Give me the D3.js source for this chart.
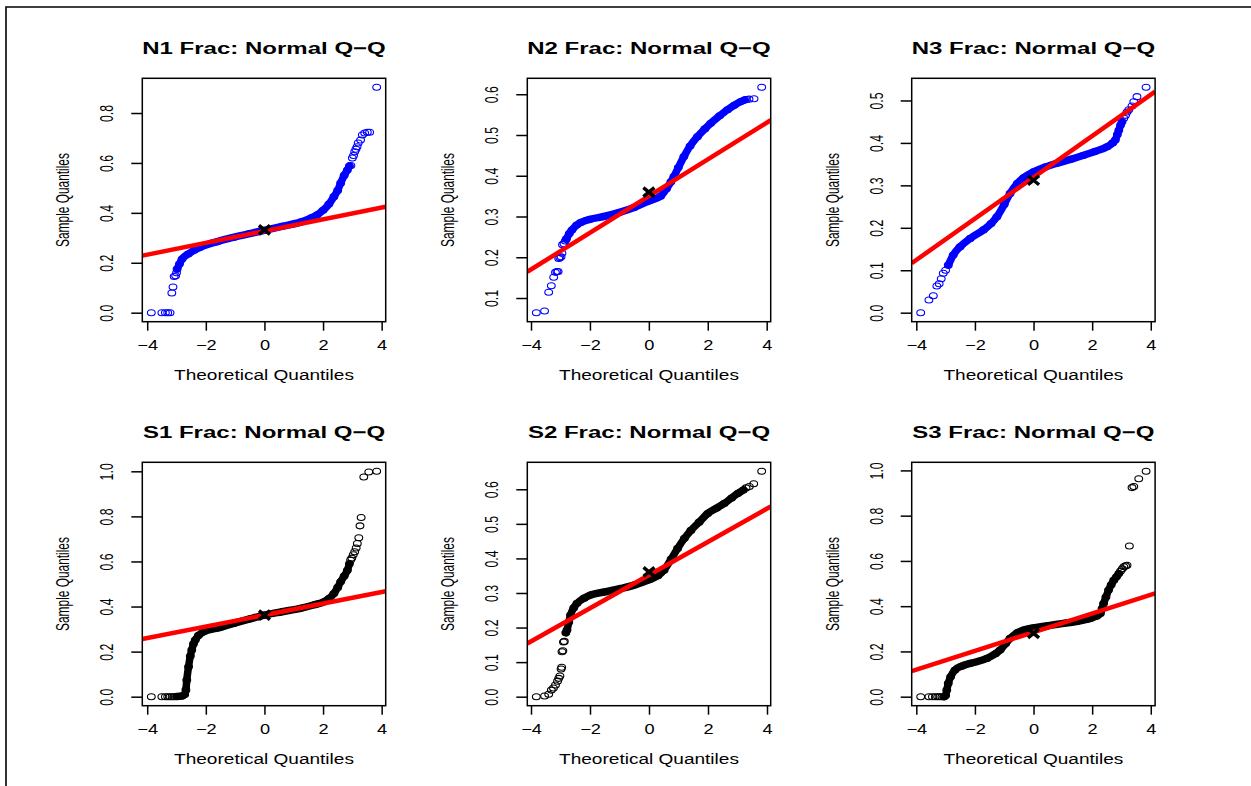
<!DOCTYPE html>
<html>
<head>
<meta charset="utf-8">
<script src="https://cdn.jsdelivr.net/npm/d3@7"></script>
<style>
body { margin: 0; background: #fff; }
text { font-family: "Liberation Sans", Arial, Helvetica, sans-serif; fill: #000; }
</style>
</head>
<body>
<svg id="chart" width="1251" height="786"></svg>
<script>
// values: [theoretical quantile, sample quantile]
var titles = ["N1 Frac: Normal Q\u2212Q", "N2 Frac: Normal Q\u2212Q", "N3 Frac: Normal Q\u2212Q",
              "S1 Frac: Normal Q\u2212Q", "S2 Frac: Normal Q\u2212Q", "S3 Frac: Normal Q\u2212Q"];
var colors = ["#0000ff", "#0000ff", "#0000ff", "#000000", "#000000", "#000000"];

var yTicks = [
  [0, 0.2, 0.4, 0.6, 0.8],
  [0.1, 0.2, 0.3, 0.4, 0.5, 0.6],
  [0, 0.1, 0.2, 0.3, 0.4, 0.5],
  [0, 0.2, 0.4, 0.6, 0.8, 1.0],
  [0, 0.1, 0.2, 0.3, 0.4, 0.5, 0.6],
  [0, 0.2, 0.4, 0.6, 0.8, 1.0]
];
var xTicks = [-4, -2, 0, 2, 4];

// qqline: intercept and slope, plus the median marker
var qqIntercept = [0.327, 0.350, 0.319, 0.362, 0.352, 0.285];
var qqSlope = [0.0236, 0.045, 0.0487, 0.0255, 0.048, 0.0413];
var medians = [0.332, 0.360, 0.312, 0.362, 0.361, 0.280];

// dense part of each Q-Q cloud
var n1Band = [[-2.98,0.175],[-2.9,0.195],[-2.81,0.215],[-2.6,0.235],[-2.4,0.25],[-2.19,0.262],[-1.6,0.285],
  [-1.05,0.302],[-0.5,0.317],[0,0.33],[0.6,0.346],[1.23,0.363],[1.6,0.38],[1.8,0.392],[2.0,0.41],[2.2,0.435],
  [2.37,0.465],[2.5,0.49],[2.6,0.519],[2.72,0.55],[2.83,0.572],[2.9,0.588]];
var n2Band = [[-2.8,0.245],[-2.7,0.258],[-2.61,0.267],[-2.45,0.279],[-2.32,0.285],[-2.0,0.293],[-1.53,0.30],
  [-1.0,0.31],[-0.5,0.322],[0,0.338],[0.4,0.35],[0.6,0.368],[0.75,0.385],[0.85,0.398],[1.0,0.42],[1.19,0.447],
  [1.4,0.473],[1.65,0.496],[1.9,0.515],[2.1,0.529],[2.4,0.547],[2.67,0.562],[2.9,0.573],[3.12,0.582],[3.25,0.586]];
var n3Band = [[-2.91,0.112],[-2.74,0.136],[-2.51,0.155],[-2.16,0.175],[-1.71,0.195],[-1.45,0.21],[-1.25,0.226],
  [-1.0,0.255],[-0.8,0.281],[-0.55,0.305],[-0.34,0.318],[0,0.332],[0.4,0.343],[0.8,0.352],[1.3,0.362],
  [1.71,0.371],[2.1,0.38],[2.51,0.391],[2.7,0.4],[2.79,0.407],[2.86,0.42],[2.91,0.43],[2.97,0.442],[3.02,0.45]];
var s1Band = [[-3.0,0.001],[-2.81,0.003],[-2.72,0.01],[-2.68,0.03],[-2.65,0.074],[-2.59,0.133],[-2.53,0.18],
  [-2.48,0.207],[-2.42,0.235],[-2.36,0.251],[-2.25,0.272],[-2.07,0.288],[-1.5,0.308],[-1.05,0.325],[-0.5,0.345],
  [0,0.362],[0.6,0.377],[1.23,0.392],[1.7,0.408],[2.03,0.421],[2.2,0.435],[2.37,0.458],[2.5,0.485],[2.6,0.51],
  [2.72,0.535],[2.83,0.561],[2.9,0.59]];
var s2Band = [[-2.82,0.185],[-2.78,0.193],[-2.72,0.215],[-2.66,0.236],[-2.55,0.257],[-2.44,0.27],[-2.2,0.285],
  [-1.98,0.294],[-1.5,0.303],[-0.96,0.313],[-0.5,0.323],[0,0.338],[0.3,0.35],[0.51,0.366],[0.75,0.398],
  [0.97,0.429],[1.2,0.458],[1.42,0.481],[1.7,0.505],[1.99,0.53],[2.3,0.546],[2.55,0.559],[2.8,0.575],
  [3.01,0.588],[3.2,0.598]];
var s3Band = [[-3.05,0],[-3.0,0.005],[-2.96,0.029],[-2.91,0.059],[-2.83,0.088],[-2.68,0.118],[-2.45,0.135],
  [-2.16,0.147],[-1.59,0.169],[-1.3,0.19],[-1.14,0.206],[-0.95,0.235],[-0.8,0.258],[-0.55,0.283],[-0.34,0.294],
  [0,0.304],[0.5,0.314],[1.03,0.324],[1.5,0.333],[1.94,0.346],[2.15,0.356],[2.28,0.368],[2.34,0.39],[2.39,0.412],
  [2.47,0.44],[2.56,0.471],[2.65,0.495],[2.74,0.515],[2.83,0.53],[2.91,0.544]];

// separate points in the tails
var n1Tails = [[-3.86,0],[-3.5,0],[-3.38,0],[-3.3,0],[-3.22,0],[-3.16,0.079],[-3.12,0.103],[-3.08,0.145],
  [-3.03,0.148],[-3.0,0.16],
  [2.95,0.59],[3.0,0.62],[3.04,0.63],[3.08,0.645],[3.12,0.655],[3.16,0.665],[3.2,0.68],[3.28,0.692],
  [3.34,0.712],[3.42,0.72],[3.51,0.723],[3.59,0.723],[3.83,0.903]];
var n2Tails = [[-3.82,0.064],[-3.54,0.068],[-3.4,0.114],[-3.31,0.13],[-3.23,0.151],[-3.17,0.163],[-3.12,0.165],
  [-3.08,0.165],[-3.06,0.197],[-3.02,0.199],[-2.98,0.201],[-2.95,0.21],[-2.93,0.231],[-2.88,0.233],[-2.84,0.24],
  [3.3,0.587],[3.4,0.588],[3.57,0.589],[3.83,0.617]];
var n3Tails = [[-3.85,0],[-3.57,0.03],[-3.42,0.04],[-3.3,0.063],[-3.22,0.068],[-3.15,0.08],[-3.08,0.093],[-3.0,0.1],
  [3.08,0.458],[3.14,0.465],[3.19,0.473],[3.25,0.478],[3.36,0.487],[3.42,0.497],[3.53,0.509],[3.84,0.531]];
var s1Tails = [[-3.86,0],[-3.5,0],[-3.38,0],[-3.3,0],[-3.22,0],[-3.15,0],[-3.08,0],
  [2.94,0.606],[2.98,0.615],[3.03,0.63],[3.08,0.643],[3.13,0.66],[3.17,0.68],[3.22,0.705],[3.26,0.758],
  [3.3,0.795],[3.39,0.975],[3.56,0.997],[3.83,1.0]];
var s2Tails = [[-3.82,0],[-3.54,0.002],[-3.4,0.007],[-3.31,0.019],[-3.24,0.025],[-3.17,0.034],[-3.1,0.045],
  [-3.06,0.053],[-3.02,0.06],[-2.98,0.08],[-2.96,0.085],[-2.95,0.13],[-2.92,0.133],[-2.9,0.158],[-2.87,0.16],
  [3.29,0.604],[3.4,0.608],[3.55,0.616],[3.82,0.652]];
var s3Tails = [[-3.85,0],[-3.57,0],[-3.45,0],[-3.35,0],[-3.27,0],[-3.2,0],[-3.13,0],
  [2.97,0.555],[3.03,0.565],[3.08,0.574],[3.14,0.578],[3.19,0.581],[3.27,0.666],[3.36,0.924],[3.42,0.929],
  [3.59,0.963],[3.84,0.996]];

var bands = [n1Band, n2Band, n3Band, s1Band, s2Band, s3Band];
var tails = [n1Tails, n2Tails, n3Tails, s1Tails, s2Tails, s3Tails];

// layout of the 2x3 grid (plot boxes)
var boxLeft = [142.3, 527.3, 911.7];
var boxTop = [78.3, 462.3];
var boxSize = 243.4;

var svg = d3.select("#chart");

// outer frame (top and left only)
svg.append("path")
  .attr("d", "M6,786 V7 H1251")
  .attr("fill", "none").attr("stroke", "#000").attr("stroke-width", 1.6);

// R style 4% range extension
function rExtend(ext) {
  var pad = (ext[1] - ext[0]) * 0.04;
  return [ext[0] - pad, ext[1] + pad];
}

var fmtX = d3.format("d");
var fmtY = d3.format(".1f");

titles.forEach(function(title, i) {
  var left = boxLeft[i % 3], top = boxTop[Math.floor(i / 3)];
  var all = bands[i].concat(tails[i]);

  var x = d3.scaleLinear()
    .domain(rExtend(d3.extent(all, function(d) { return d[0]; })))
    .range([left, left + boxSize]);
  var y = d3.scaleLinear()
    .domain(rExtend(d3.extent(all, function(d) { return d[1]; })))
    .range([top + boxSize, top]);

  var g = svg.append("g");
  var col = colors[i];

  g.append("clipPath").attr("id", "clip" + i)
    .append("rect").attr("x", left).attr("y", top).attr("width", boxSize).attr("height", boxSize);

  // dense cloud as a thick stroke, then the single circles
  g.append("path")
    .datum(bands[i])
    .attr("d", d3.line().x(function(d) { return x(d[0]); }).y(function(d) { return y(d[1]); })
      .curve(d3.curveMonotoneX))
    .attr("fill", "none").attr("stroke", col).attr("stroke-width", 7.5)
    .attr("stroke-linecap", "round").attr("stroke-linejoin", "round");

  g.selectAll("ellipse.pt")
    .data(all)
    .enter().append("ellipse")
    .attr("class", "pt")
    .attr("cx", function(d) { return x(d[0]); })
    .attr("cy", function(d) { return y(d[1]); })
    .attr("rx", 3.9).attr("ry", 3)
    .attr("fill", "none").attr("stroke", col).attr("stroke-width", 1.1);

  // red qqline
  var xd = x.domain();
  g.append("line")
    .attr("clip-path", "url(#clip" + i + ")")
    .attr("x1", x(xd[0])).attr("y1", y(qqIntercept[i] + qqSlope[i] * xd[0]))
    .attr("x2", x(xd[1])).attr("y2", y(qqIntercept[i] + qqSlope[i] * xd[1]))
    .attr("stroke", "#ff0000").attr("stroke-width", 4.5);

  // median cross
  var mx = x(0), my = y(medians[i]);
  g.append("path")
    .attr("d", "M" + (mx - 5.5) + "," + (my - 4.5) + "L" + (mx + 5.5) + "," + (my + 4.5) +
               "M" + (mx - 5.5) + "," + (my + 4.5) + "L" + (mx + 5.5) + "," + (my - 4.5))
    .attr("stroke", "#000").attr("stroke-width", 3.5);

  // box
  g.append("rect")
    .attr("x", left).attr("y", top).attr("width", boxSize).attr("height", boxSize)
    .attr("fill", "none").attr("stroke", "#000").attr("stroke-width", 1.5);

  // x axis
  var xAxis = g.append("g")
    .attr("transform", "translate(0," + (top + boxSize) + ")")
    .call(d3.axisBottom(x).tickValues(xTicks).tickSize(9).tickFormat(fmtX));
  xAxis.select(".domain").remove();
  xAxis.selectAll(".tick line").attr("stroke-width", 1.5);
  xAxis.selectAll(".tick text")
    .attr("y", 0).attr("dy", null)
    .attr("font-size", 14)
    .attr("transform", "translate(0,28) scale(1.3,1)");

  // y axis, labels turned like R's las=0
  var yAxis = g.append("g")
    .attr("transform", "translate(" + left + ",0)")
    .call(d3.axisLeft(y).tickValues(yTicks[i]).tickSize(11).tickFormat(fmtY));
  yAxis.select(".domain").remove();
  yAxis.selectAll(".tick line").attr("stroke-width", 1.5);
  yAxis.selectAll(".tick text")
    .attr("x", 0).attr("y", 0).attr("dy", null).attr("dx", null)
    .attr("font-size", 14)
    .attr("text-anchor", "middle")
    .attr("transform", "translate(-29,0) scale(1.25,0.88) rotate(-90)");

  // title and axis titles
  g.append("text")
    .attr("transform", "translate(" + (left + boxSize / 2) + "," + (top - 24.5) + ") scale(1.43,1)")
    .attr("text-anchor", "middle")
    .attr("font-size", 16.8).attr("font-weight", "bold")
    .text(title);

  g.append("text")
    .attr("transform", "translate(" + (left + boxSize / 2) + "," + (top + boxSize + 58.5) + ") scale(1.36,1)")
    .attr("text-anchor", "middle")
    .attr("font-size", 14)
    .text("Theoretical Quantiles");

  g.append("text")
    .attr("transform", "translate(" + (left - 73) + "," + (top + boxSize / 2) + ") scale(1.35,0.85) rotate(-90)")
    .attr("text-anchor", "middle")
    .attr("font-size", 14)
    .text("Sample Quantiles");
});
</script>
</body>
</html>
